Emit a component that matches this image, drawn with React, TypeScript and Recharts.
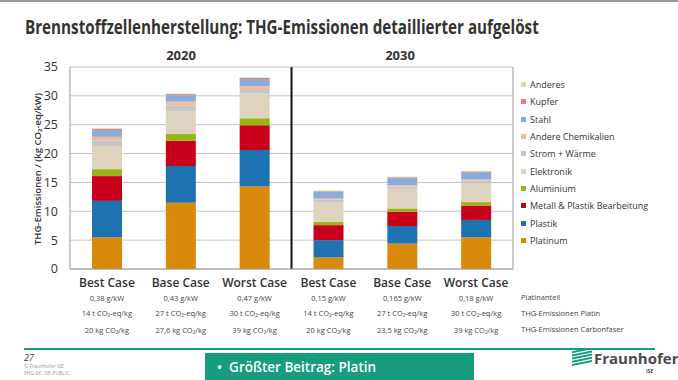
import React from 'react';
import {
  BarChart,
  Bar,
  XAxis,
  YAxis,
  CartesianGrid,
  ReferenceLine,
} from 'recharts';

// Kategorien (2020: 3 Fälle, 2030: 3 Fälle)
const categories = ['Best Case', 'Base Case', 'Worst Case', 'Best Case', 'Base Case', 'Worst Case'];
const years = ['2020', '2030'];
const yTicks = [0, 5, 10, 15, 20, 25, 30, 35];

// Segmente von unten nach oben, kg CO2-eq/kW
const platinum = [5.5, 11.5, 14.3, 2.0, 4.4, 5.5];
const plastik = [6.3, 6.35, 6.3, 3.0, 3.05, 3.0];
const metall = [4.3, 4.35, 4.3, 2.6, 2.45, 2.5];
const aluminium = [1.2, 1.2, 1.2, 0.6, 0.6, 0.6];
const elektronik = [4.0, 4.0, 4.4, 3.4, 3.4, 3.3];
const strom = [1.0, 0.9, 0.7, 0.4, 0.4, 0.4];
const chemikalien = [0.6, 0.7, 0.5, 0.2, 0.2, 0.2];
const stahl = [1.2, 1.1, 1.2, 1.2, 1.3, 1.3];
const kupfer = [0.2, 0.2, 0.2, 0.1, 0.1, 0.1];
const anderes = [0.1, 0.1, 0.1, 0.1, 0.1, 0.1];

// Zusatzzeilen unter den Kategorien
const platinanteil = ['0,38 g/kW', '0,43 g/kW', '0,47 g/kW', '0,15 g/kW', '0,165 g/kW', '0,18 g/kW'];
const thgPlatin = ['14 t CO₂-eq/kg', '27 t CO₂-eq/kg', '30 t CO₂-eq/kg', '14 t CO₂-eq/kg', '27 t CO₂-eq/kg', '30 t CO₂-eq/kg'];
const thgCarbon = ['20 kg CO₂/kg', '27,6 kg CO₂/kg', '39 kg CO₂/kg', '20 kg CO₂/kg', '23,5 kg CO₂/kg', '39 kg CO₂/kg'];
const rowLabels = ['Platinanteil', 'THG-Emissionen Platin', 'THG-Emissionen Carbonfaser'];

const series = [
  { key: 'platinum', name: 'Platinum', values: platinum, color: '#D98A0B' },
  { key: 'plastik', name: 'Plastik', values: plastik, color: '#1F72B2' },
  { key: 'metall', name: 'Metall & Plastik Bearbeitung', values: metall, color: '#C9001C' },
  { key: 'aluminium', name: 'Aluminium', values: aluminium, color: '#98B416' },
  { key: 'elektronik', name: 'Elektronik', values: elektronik, color: '#DDD3BF' },
  { key: 'strom', name: 'Strom + Wärme', values: strom, color: '#C6C6C8' },
  { key: 'chemikalien', name: 'Andere Chemikalien', values: chemikalien, color: '#F1BC9E' },
  { key: 'stahl', name: 'Stahl', values: stahl, color: '#8EAAD8' },
  { key: 'kupfer', name: 'Kupfer', values: kupfer, color: '#EF7B7B' },
  { key: 'anderes', name: 'Anderes', values: anderes, color: '#C7E29E' },
];

const data = categories.map((c, i) => {
  const row: Record<string, number | string> = { id: `c${i}`, idx: i + 0.5 };
  series.forEach((s) => {
    row[s.key] = s.values[i];
  });
  return row;
});

const FONT = '"Open Sans", "Noto Sans", sans-serif';
const TEAL = '#179C7D';

function CategoryTick(props: any) {
  const { x, y, index } = props;
  return (
    <g fontFamily={FONT}>
      <text x={x} y={y + 10} textAnchor="middle" fontSize={12} fontWeight={600} fill="#333">
        {categories[index]}
      </text>
      <text x={x} y={y + 23.5} textAnchor="middle" fontSize={7.5} fill="#444">
        {platinanteil[index]}
      </text>
      <text x={x} y={y + 38.5} textAnchor="middle" fontSize={7.5} fill="#444">
        {thgPlatin[index]}
      </text>
      <text x={x} y={y + 55.5} textAnchor="middle" fontSize={7.5} fill="#444">
        {thgCarbon[index]}
      </text>
    </g>
  );
}

export default function App() {
  return (
    <div style={{ position: 'fixed', left: 0, top: 0, width: 678, height: 380, background: '#fff', overflow: 'hidden', fontFamily: FONT }}>
      <div style={{ position: 'absolute', left: 0, top: 0, width: 678, height: 2, background: '#999' }} />
      <div
        style={{
          position: 'absolute',
          left: 25,
          top: 14,
          fontSize: 19,
          fontWeight: 700,
          color: '#333',
          whiteSpace: 'nowrap',
          transformOrigin: 'left top',
          transform: 'scaleX(0.8)',
        }}
      >
        Brennstoffzellenherstellung: THG-Emissionen detaillierter aufgelöst
      </div>
      <div style={{ position: 'absolute', left: 161, top: 46, width: 40, textAlign: 'center', fontSize: 13, fontWeight: 700, color: '#333' }}>
        {years[0]}
      </div>
      <div style={{ position: 'absolute', left: 380, top: 46, width: 40, textAlign: 'center', fontSize: 13, fontWeight: 700, color: '#333' }}>
        {years[1]}
      </div>

      <div style={{ position: 'absolute', left: 0, top: 0 }}>
        <BarChart width={678} height={380} data={data} margin={{ top: 67, right: 165, bottom: 51, left: 40 }} barSize={30}>
          <CartesianGrid vertical={false} stroke="#C4C4C4" />
          <XAxis
            xAxisId="cat"
            dataKey="id"
            tick={<CategoryTick />}
            tickLine={false}
            axisLine={{ stroke: '#9A9A9A' }}
            height={60}
            interval={0}
          />
          <XAxis xAxisId="num" type="number" dataKey="idx" domain={[0, 6]} hide />
          <YAxis
            domain={[0, 35]}
            ticks={yTicks}
            width={30}
            tickLine={false}
            tickMargin={6}
            axisLine={{ stroke: '#9A9A9A' }}
            tick={{ fontSize: 12.5, fill: '#333', fontFamily: FONT }}
          />
          {series.map((s) => (
            <Bar key={s.key} xAxisId="cat" dataKey={s.key} name={s.name} stackId="a" fill={s.color} isAnimationActive={false} />
          ))}
          <ReferenceLine xAxisId="num" x={6} stroke="#9A9A9A" />
          <ReferenceLine xAxisId="num" x={3} stroke="#111" strokeWidth={2} />
        </BarChart>
      </div>

      {/* Achsentitel */}
      <svg style={{ position: 'absolute', left: 0, top: 0 }} width={60} height={300}>
        <text
          transform="translate(37,169) rotate(-90)"
          textAnchor="middle"
          dominantBaseline="central"
          fontSize={9.5}
          fontWeight={600}
          fill="#333"
          fontFamily={FONT}
        >
          THG-Emissionen / (kg CO₂-eq/kW)
        </text>
      </svg>

      {/* Legende, oben = zuletzt gestapelt */}
      <div style={{ position: 'absolute', left: 521, top: 76 }}>
        {[...series].reverse().map((s) => (
          <div key={s.key} style={{ display: 'flex', alignItems: 'center', height: 17.3, fontSize: 9, color: '#333', whiteSpace: 'nowrap' }}>
            <span style={{ width: 5, height: 5, background: s.color, marginRight: 4, display: 'inline-block' }} />
            {s.name}
          </div>
        ))}
      </div>

      {rowLabels.map((r, i) => (
        <div key={r} style={{ position: 'absolute', left: 521, top: 292 + i * 16, fontSize: 7.5, color: '#444', whiteSpace: 'nowrap' }}>
          {r}
        </div>
      ))}

      {/* Fußzeile */}
      <div style={{ position: 'absolute', left: 24, top: 348, width: 631, height: 2, background: TEAL }} />
      <div style={{ position: 'absolute', left: 24, top: 351, fontSize: 9, color: '#444', fontStyle: 'italic' }}>27</div>
      <div style={{ position: 'absolute', left: 24, top: 363, fontSize: 5, color: '#999', lineHeight: '7px' }}>
        © Fraunhofer ISE
        <br />
        FHG-SK: ISE-PUBLIC
      </div>
      <div
        style={{
          position: 'absolute',
          left: 205,
          top: 353,
          width: 269,
          height: 30,
          background: TEAL,
          color: '#fff',
          fontSize: 13.5,
          fontWeight: 600,
          lineHeight: '28px',
          paddingLeft: 12,
          boxSizing: 'border-box',
        }}
      >
        •&nbsp;&nbsp;Größter Beitrag: Platin
      </div>
      <svg style={{ position: 'absolute', left: 572, top: 350 }} width={20} height={16}>
        {[0, 1, 2, 3, 4].map((k) => (
          <polygon key={k} points={`0,${16 - k * 3.2} ${20},${12 - k * 3.2} ${20},${10 - k * 3.2} 0,${14 - k * 3.2}`} fill={TEAL} />
        ))}
      </svg>
      <div style={{ position: 'absolute', left: 594, top: 348, fontSize: 15, fontWeight: 700, color: '#4a4a4a' }}>Fraunhofer</div>
      <div style={{ position: 'absolute', left: 646, top: 368, fontSize: 5, fontWeight: 700, color: '#4a4a4a' }}>ISE</div>
    </div>
  );
}
